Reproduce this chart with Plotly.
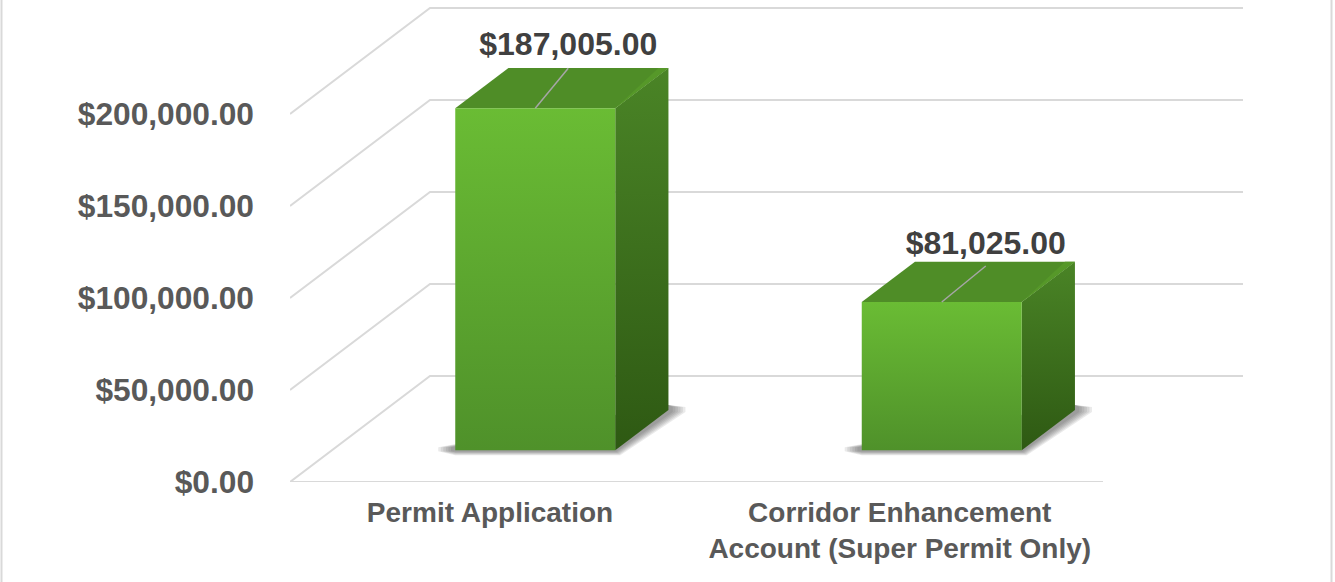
import plotly.graph_objects as go

# ---- data ----
categories = ["Permit Application", "Corridor Enhancement<br>Account (Super Permit Only)"]
values = [187005, 81025]
value_labels = ["$187,005.00", "$81,025.00"]
tick_values = [0, 50000, 100000, 150000, 200000]
tick_labels = ["$0.00", "$50,000.00", "$100,000.00", "$150,000.00", "$200,000.00"]

# ---- oblique projection geometry (style constants) ----
W, H = 1335, 582
PLOT_L, PLOT_R, PLOT_T, PLOT_B = 290, 1243, 0, 482
PX_PER_CAT = 406.5
PX_PER_USD = 92 / 50000
DX = 140 / PX_PER_CAT            # full depth of floor, in category units
DY = 106 / PX_PER_USD            # full depth of floor, in dollars
X_MIN, X_MAX = 0.5, 0.5 + (PLOT_R - PLOT_L) / PX_PER_CAT
Y_MAX = (PLOT_B - PLOT_T) / PX_PER_USD
BAR_W = 160 / PX_PER_CAT
F0, F1 = 0.30, 0.68              # bar front / back depth fractions
BAR_SCALE = 0.994
LEADER_DX = [33, 44]
LEADER_DY = [40, 36]
LABEL_LIFT = [5, 4]


def proj(x, v, d):
    return x + d * DX, v + d * DY


def px_x(p):
    return p / PX_PER_CAT


def px_y(p):
    return p / PX_PER_USD


fig = go.Figure()


def line(xs, ys, color="#d9d9d9", width=2):
    fig.add_trace(go.Scatter(x=xs, y=ys, mode="lines", line=dict(color=color, width=width),
                             hoverinfo="skip", showlegend=False, cliponaxis=False))


def poly(pts, color=None, grad=None):
    xs = [p[0] for p in pts] + [pts[0][0]]
    ys = [p[1] for p in pts] + [pts[0][1]]
    kw = dict(fillgradient=grad) if grad else dict(fillcolor=color)
    fig.add_trace(go.Scatter(x=xs, y=ys, mode="lines", fill="toself", line=dict(width=0),
                             hoverinfo="skip", showlegend=False, cliponaxis=False, **kw))


# walls and floor gridlines
n_cat = len(categories)
for t in tick_values:
    bx, by = proj(X_MIN, t, 1)
    line([X_MIN, bx, bx + n_cat], [t, by, by])
line([X_MIN, X_MIN + n_cat], [0, 0])

# bars
for i, raw in enumerate(values):
    v = raw * BAR_SCALE
    c = i + 1
    x0, x1 = c - BAR_W / 2, c + BAR_W / 2

    # soft shadow on the floor
    fx0, fb = proj(x0, 0, F0)
    fx1, _ = proj(x1, 0, F0)
    bx1, bb = proj(x1, 0, F1)
    for g in (1.0, 0.85, 0.7, 0.55, 0.4, 0.25):
        poly([(fx0 - px_x(17 * g), fb + px_y(3)),
              (fx0 - px_x(17 * g), fb - px_y(1)),
              (fx0, fb - px_y(5 * g)),
              (fx1 + px_x(5 * g), fb - px_y(5 * g)),
              (bx1 + px_x(17 * g), bb - px_y(2)),
              (bx1 + px_x(17 * g), bb + px_y(3)),
              (bx1, bb + px_y(5))],
             color="rgba(60,60,60,0.11)")

    # side face
    a, b = proj(x1, 0, F0), proj(x1, v, F0)
    d, e = proj(x1, v, F1), proj(x1, 0, F1)
    poly([a, b, d, e], grad=dict(type="vertical", colorscale=[[0, "#2e5913"], [1, "#4a8426"]]))

    # top face, with the lighter sliver along its right edge
    f = proj(x0, v, F0)
    g_ = proj(x0, v, F1)
    poly([f, b, d, g_], color="#4f8d27")
    poly([b, d, (d[0] - px_x(10), d[1])], color="#569829")

    # front face
    p0, p1 = proj(x0, 0, F0), proj(x1, 0, F0)
    poly([p0, f, b, p1], grad=dict(type="vertical", colorscale=[[0, "#4f912a"], [1, "#6abc34"]]))

    # leader line and data label
    lx0, ly0 = proj(c, v, F0)
    lx1, ly1 = lx0 + px_x(LEADER_DX[i]), ly0 + px_y(LEADER_DY[i])
    line([lx0, lx1], [ly0, ly1], color="#a6a6a6", width=1.5)
    fig.add_trace(go.Scatter(x=[lx1], y=[ly1 + px_y(LABEL_LIFT[i])], mode="text", text=[value_labels[i]],
                             textposition="top center", cliponaxis=False, showlegend=False,
                             hoverinfo="skip",
                             textfont=dict(family="Liberation Sans", size=32, color="#404040",
                                           weight="bold")))

fig.update_layout(
    width=W, height=H,
    margin=dict(l=PLOT_L, r=W - PLOT_R, t=PLOT_T, b=H - PLOT_B, autoexpand=False),
    paper_bgcolor="white", plot_bgcolor="white",
    showlegend=False,
    xaxis=dict(range=[X_MIN, X_MAX], tickmode="array", tickvals=[0.992, 2], ticktext=categories,
               showgrid=False, zeroline=False, showline=False, ticks="", tickangle=0,
               ticklabelstandoff=11,
               tickfont=dict(family="Liberation Sans", size=28, color="#595959", weight="bold")),
    yaxis=dict(range=[0, Y_MAX], tickmode="array", tickvals=tick_values, ticktext=tick_labels,
               showgrid=False, zeroline=False, showline=False, ticks="",
               ticklabelstandoff=35,
               tickfont=dict(family="Liberation Sans", size=31.7, color="#595959", weight="bold")),
    shapes=[
        dict(type="line", xref="paper", yref="paper", layer="above",
             x0=(px - PLOT_L) / (PLOT_R - PLOT_L), x1=(px - PLOT_L) / (PLOT_R - PLOT_L),
             y0=(PLOT_B - 0) / (PLOT_B - PLOT_T), y1=(PLOT_B - H) / (PLOT_B - PLOT_T),
             line=dict(color="#d9d9d9", width=2))
        for px in (1.5, 1331.5)
    ],
)

fig.write_html("out.html", config=dict(displayModeBar=False),
               post_script="document.body.style.margin='0';document.body.style.overflow='hidden';")
